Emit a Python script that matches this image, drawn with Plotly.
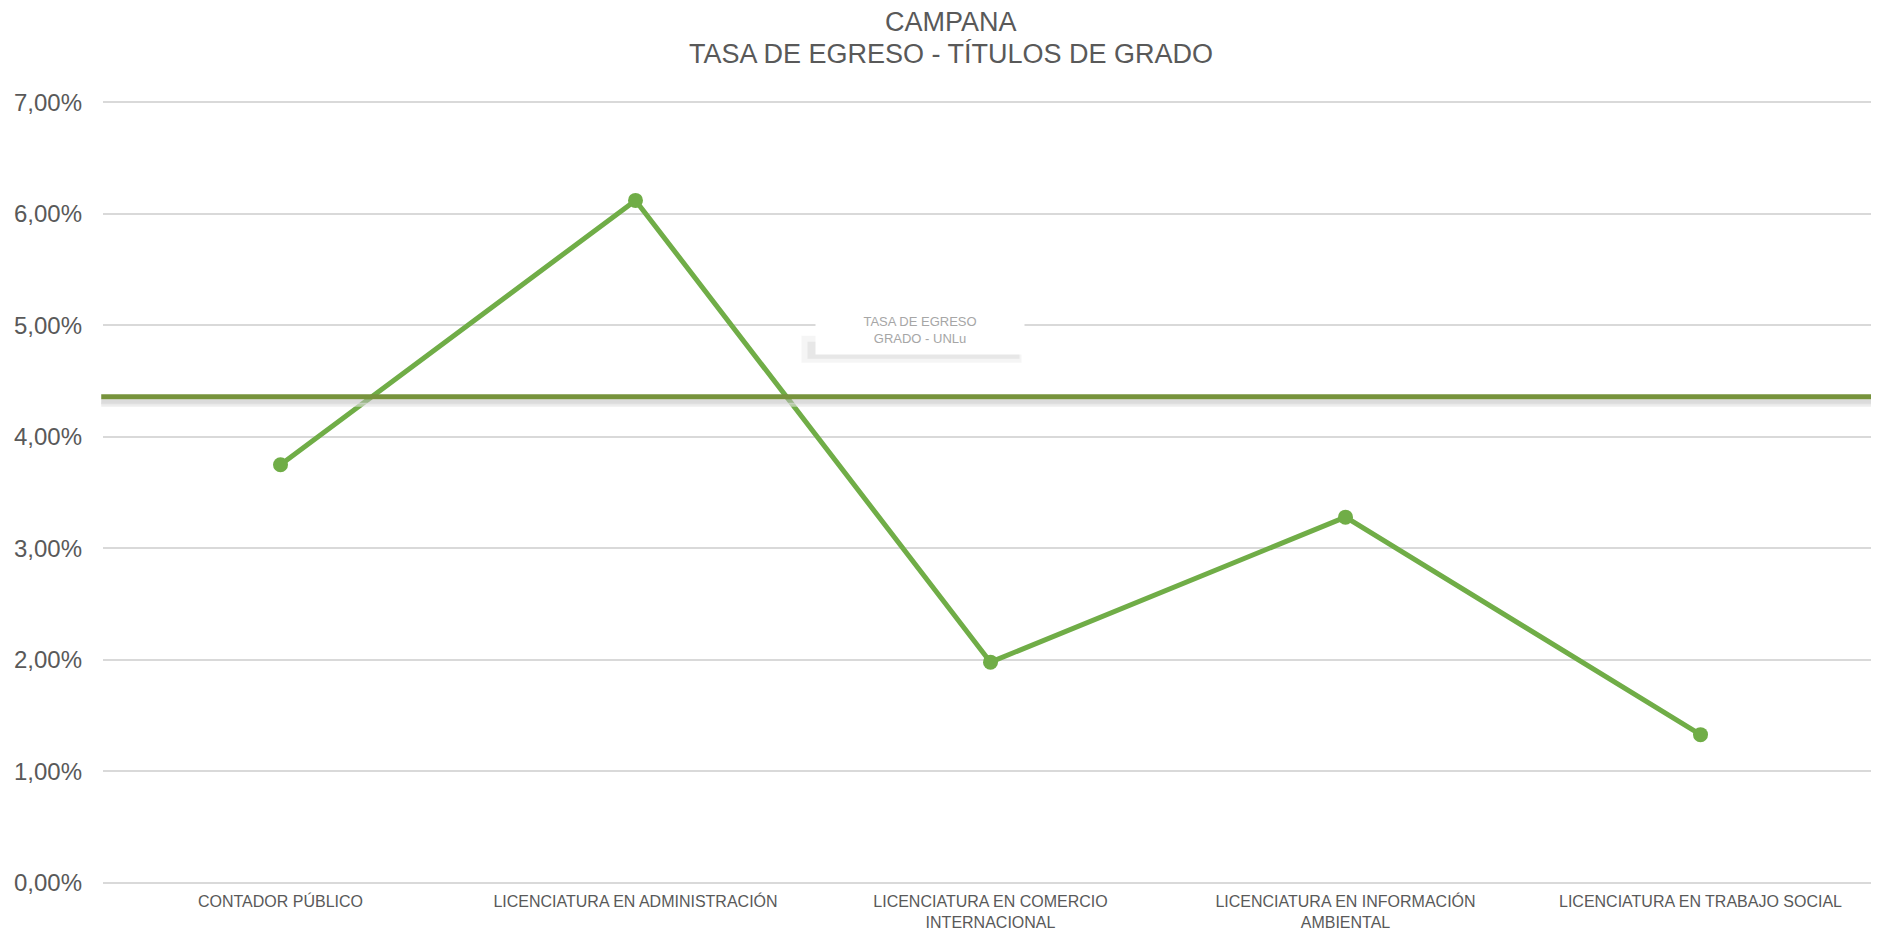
import plotly.graph_objects as go

categories = [
    "CONTADOR PÚBLICO",
    "LICENCIATURA EN ADMINISTRACIÓN",
    "LICENCIATURA EN COMERCIO<br>INTERNACIONAL",
    "LICENCIATURA EN INFORMACIÓN<br>AMBIENTAL",
    "LICENCIATURA EN TRABAJO SOCIAL",
]
tasa_egreso = [0.0375, 0.0612, 0.0198, 0.0328, 0.0133]
tasa_unlu = 0.0436
y_ticks = [0, 0.01, 0.02, 0.03, 0.04, 0.05, 0.06, 0.07]
title_lines = ["CAMPANA", "TASA DE EGRESO - TÍTULOS DE GRADO"]

FONT = "Arial, Liberation Sans, sans-serif"
TXT = "#595959"

fig = go.Figure()
fig.add_trace(go.Scatter(
    x=categories, y=tasa_egreso, mode="lines+markers",
    line=dict(color="#70AD47", width=5),
    marker=dict(color="#70AD47", size=15),
    showlegend=False, hoverinfo="skip",
))

# UNLu reference line with shadow
fig.add_shape(type="line", xref="paper", x0=-0.001, x1=0.998,
              yref="y", ysizemode="pixel", yanchor=tasa_unlu, y0=-5, y1=-5,
              line=dict(color="rgba(190,190,190,0.55)", width=5), layer="above")
fig.add_shape(type="line", xref="paper", x0=-0.001, x1=0.998,
              yref="y", ysizemode="pixel", yanchor=tasa_unlu, y0=-8, y1=-8,
              line=dict(color="rgba(225,225,225,0.6)", width=4), layer="above")
fig.add_shape(type="line", xref="paper", x0=-0.001, x1=0.998,
              yref="y", y0=tasa_unlu, y1=tasa_unlu,
              line=dict(color="#77933C", width=5), layer="above")

# label box soft shadow
label_x, label_y = 1.8, 0.0496
fig.add_shape(type="rect", xref="x", xsizemode="pixel", xanchor=label_x,
              x0=-118, x1=102, yref="y", ysizemode="pixel", yanchor=label_y,
              y0=-33, y1=-6, fillcolor="rgba(230,230,230,0.4)",
              line=dict(width=0), layer="above")
fig.add_shape(type="rect", xref="x", xsizemode="pixel", xanchor=label_x,
              x0=-112, x1=100, yref="y", ysizemode="pixel", yanchor=label_y,
              y0=-29, y1=-12, fillcolor="rgba(215,215,215,0.45)",
              line=dict(width=0), layer="above")
fig.add_annotation(
    x=label_x, y=label_y, xref="x", yref="y",
    text="TASA DE EGRESO<br>GRADO - UNLu", showarrow=False,
    font=dict(family=FONT, size=13, color="#a6a6a6"),
    bgcolor="white", width=200, height=40, borderpad=4,
)

# title, one annotation per line
for line_text, ypos in zip(title_lines, [1.1001, 1.0587]):
    fig.add_annotation(
        text=line_text, xref="paper", yref="paper", x=0.478, y=ypos,
        xanchor="center", yanchor="middle", showarrow=False, borderpad=0,
        font=dict(family=FONT, size=27, color=TXT),
    )

fig.update_layout(
    width=1871, height=923,
    template="none",
    paper_bgcolor="white", plot_bgcolor="white",
    separators=",.",
    margin=dict(l=95, r=1, t=92, b=48, autoexpand=False),
    xaxis=dict(
        type="category", range=[-0.5, 4.5],
        showgrid=False, zeroline=False, showline=False,
        ticks="", tickfont=dict(family=FONT, size=16, color=TXT),
        automargin=False, ticklabelstandoff=7,
    ),
    yaxis=dict(
        range=[0, 0.0702], tickvals=y_ticks, tickformat=".2%",
        showgrid=True, gridcolor="#d9d9d9", gridwidth=2,
        zeroline=True, zerolinecolor="#d9d9d9", zerolinewidth=2,
        showline=False, ticks="", automargin=False,
        tickfont=dict(family=FONT, size=24, color=TXT),
        ticklabelstandoff=20,
    ),
)

fig.write_html("out.html")
